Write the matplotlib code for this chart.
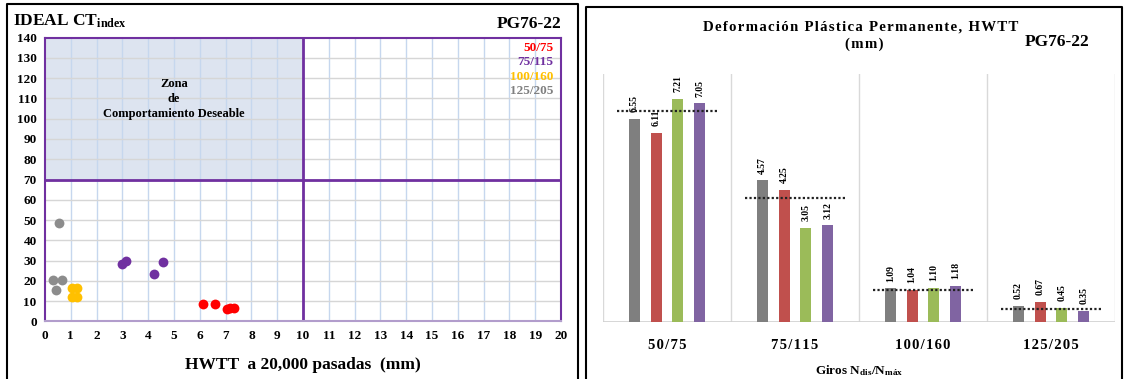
import numpy as np
import matplotlib
matplotlib.use("Agg")
import matplotlib.pyplot as plt
from matplotlib.lines import Line2D

# datos - IDEAL CT vs HWTT (panel izquierdo)
hwtt_50_75 = [6.12, 6.57, 7.07, 7.18, 7.31]
ct_50_75 = [8.4, 8.7, 6.1, 6.4, 6.7]
hwtt_75_115 = [2.97, 3.13, 4.24, 4.59]
ct_75_115 = [28.3, 29.9, 23.2, 29.1]
hwtt_100_160 = [1.03, 1.23, 1.03, 1.23]
ct_100_160 = [16.4, 16.4, 11.8, 11.8]
hwtt_125_205 = [0.54, 0.32, 0.67, 0.41]
ct_125_205 = [48.7, 20.5, 20.5, 15.4]
serie_labels = ["50/75", "75/115", "100/160", "125/205"]

# datos - deformacion HWTT (panel derecho)
giros = ["50/75", "75/115", "100/160", "125/205"]
bar_gris = [6.55, 4.57, 1.09, 0.52]
bar_rojo = [6.11, 4.25, 1.04, 0.67]
bar_verde = [7.21, 3.05, 1.10, 0.45]
bar_morado = [7.05, 3.12, 1.18, 0.35]
linea_ref = [6.80, 3.99, 1.04, 0.43]

plt.rcParams['font.family'] = ['Liberation Serif', 'DejaVu Serif']
plt.rcParams['font.weight'] = 'bold'
plt.rcParams['mathtext.fontset'] = 'custom'
plt.rcParams['mathtext.rm'] = 'Liberation Serif:bold'
plt.rcParams['mathtext.it'] = 'Liberation Serif:bold'
plt.rcParams['mathtext.bf'] = 'Liberation Serif:bold'

W, H = 1124, 379
fig = plt.figure(figsize=(W / 100, H / 100), dpi=100)

def fx(px):
    return px / W

def fy(py):
    return 1 - py / H

def spaced(s):
    return '\u200a'.join(s)

# ---------------- panel izquierdo ----------------
ax1 = fig.add_axes([fx(45), fy(321.3), fx(561) - fx(45), fy(37.7) - fy(321.3)])
ax1.set_xlim(0, 20)
ax1.set_ylim(0, 140)
ax1.fill_between([0, 10], 70, 140, color='#dde4f0', zorder=0, lw=0)
for xv in range(1, 20):
    ax1.axvline(xv, color='#c6d7ee', lw=1, zorder=1)
for yv in range(10, 140, 10):
    ax1.axhline(yv, color='#d6d6d6', lw=1, zorder=1)
ax1.axvline(10, color='#7030a0', lw=2, zorder=2)
ax1.axhline(70, color='#7030a0', lw=2, zorder=2)

ms = 50
ax1.scatter(hwtt_50_75, ct_50_75, s=ms, color='#ff0000', zorder=3, lw=0)
ax1.scatter(hwtt_75_115, ct_75_115, s=ms, color='#7030a0', zorder=3, lw=0)
ax1.scatter(hwtt_100_160, ct_100_160, s=ms, color='#ffc000', zorder=3, lw=0)
ax1.scatter(hwtt_125_205, ct_125_205, s=ms, color='#8c8c8c', zorder=3, lw=0)

ax1.set_xticks(range(0, 21))
ax1.set_yticks(range(0, 141, 10))
ax1.tick_params(length=0, labelsize=9.5, pad=6)
for lab in ax1.get_xticklabels() + ax1.get_yticklabels():
    lab.set_fontweight('bold')
for side in ['top', 'right', 'left']:
    ax1.spines[side].set_color('#7030a0')
    ax1.spines[side].set_linewidth(1.5)
ax1.spines['bottom'].set_color('#b29dcc')
ax1.spines['bottom'].set_linewidth(1.5)

ax1.set_xlabel('HWTT  a 20,000 pasadas  (mm)', fontsize=12.5, fontweight='bold', labelpad=11)
ax1.text(5, 120, 'Zona\nde\nComportamiento Deseable', ha='center', va='top',
         fontsize=9, fontweight='bold', linespacing=1.3, zorder=4)

leg_colors = ['#ff0000', '#7030a0', '#ffc000', '#808080']
for i, (lab, c) in enumerate(zip(serie_labels, leg_colors)):
    ax1.text(0.985, 0.985 - i * 0.051, lab, transform=ax1.transAxes, ha='right', va='top',
             fontsize=9.5, fontweight='bold', color=c)

fig.text(fx(13), fy(26), r'IDEAL CT$_{\mathrm{index}}$', fontsize=12.5, fontweight='bold',
         ha='left', va='baseline')
fig.text(fx(561), fy(28), 'PG76-22', fontsize=12.5, fontweight='bold', ha='right', va='baseline')

# ---------------- panel derecho ----------------
ax2 = fig.add_axes([fx(603), fy(322.3), fx(1115) - fx(603), fy(74) - fy(322.3)])
x = np.arange(len(giros))
ancho = 0.086
offsets = [-0.255, -0.085, 0.085, 0.255]
series = [bar_gris, bar_rojo, bar_verde, bar_morado]
colores = ['#7f7f7f', '#c0504d', '#9bbb59', '#8064a2']
for off, vals, c in zip(offsets, series, colores):
    bars = ax2.bar(x + off, vals, width=ancho, color=c, zorder=2)
    for b, v in zip(bars, vals):
        ax2.annotate(f'{v:.2f}', (b.get_x() + b.get_width() / 2, v), xytext=(0, 5),
                     textcoords='offset points', rotation=90, ha='center', va='bottom',
                     fontsize=7, fontweight='bold', zorder=3)
for xi, r in zip(x, linea_ref):
    ax2.plot([xi - 0.39, xi + 0.41], [r, r], color='#222222', lw=1.6, ls=(0, (1, 1)), zorder=4)

ax2.set_xlim(-0.5, 3.5)
ax2.set_ylim(0, 8)
for xs in np.arange(-0.5, 4, 1):
    ax2.axvline(xs, color='#d9d9d9', lw=1, zorder=1)
ax2.axhline(0, color='#d0d0d0', lw=1.2, zorder=1)
for side in ['top', 'right', 'left', 'bottom']:
    ax2.spines[side].set_visible(False)
ax2.set_yticks([])
ax2.set_xticks(x)
ax2.set_xticklabels([spaced(g) for g in giros], fontsize=10.5, fontweight='bold')
ax2.tick_params(axis='x', length=0, pad=12)
ax2.set_xlabel(r'Giros N$_{\mathrm{dis}}$/N$_{\mathrm{máx}}$', fontsize=9.5, fontweight='bold',
               labelpad=8)

titulo = spaced('Deformación Plástica Permanente, HWTT')
fig.text(fx(861), fy(31), titulo, fontsize=10.7, fontweight='bold', ha='center', va='baseline')
fig.text(fx(864), fy(48), spaced('(mm)'), fontsize=10.7, fontweight='bold', ha='center', va='baseline')
fig.text(fx(1057), fy(46), 'PG76-22', fontsize=12.5, fontweight='bold', ha='center', va='baseline')

# marcos de los paneles
for xs, ys in [([7, 7, 578, 578], [H, 4, 4, H]), ([586, 586, 1122, 1122], [H, 7, 7, H])]:
    fig.add_artist(Line2D([fx(v) for v in xs], [fy(v) for v in ys], color='black', lw=1.5,
                          transform=fig.transFigure))

fig.savefig('out.png', dpi=100)
